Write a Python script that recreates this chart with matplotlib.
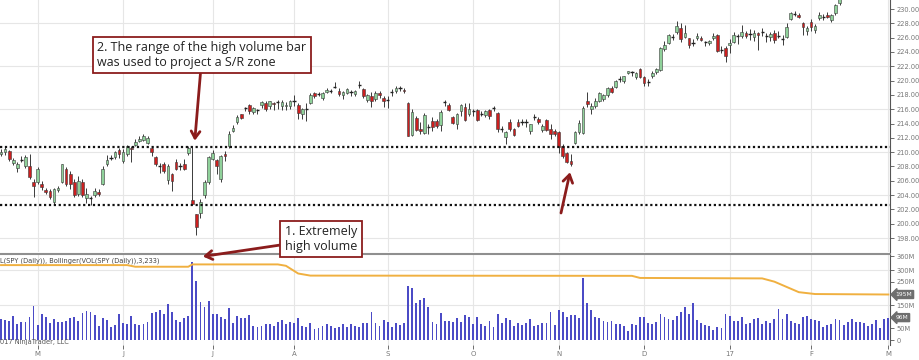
import matplotlib
matplotlib.use("Agg")
import matplotlib.pyplot as plt
import matplotlib.transforms as mtransforms
import pandas as pd

# Data harian SPY, 19 Apr 2016 - 1 Mar 2017
libur = ["2016-05-30", "2016-07-04", "2016-09-05", "2016-11-24",
         "2016-12-26", "2017-01-02", "2017-01-16", "2017-02-20"]
tanggal = pd.bdate_range("2016-04-19", "2017-03-01")
tanggal = tanggal[~tanggal.isin(pd.to_datetime(libur))]

label_bulan = ["M", "J", "J", "A", "S", "O", "N", "D", "17", "F", "M"]

harga_buka = [
    209.7, 210.0, 210.1, 208.5, 207.8, 208.9, 208.1, 208.1, 205.9, 205.8,
    205.6, 204.7, 204.6, 203.1, 204.7, 205.9, 207.7, 206.9, 205.9, 204.1,
    205.9, 203.6, 203.6, 204.0, 204.5, 205.6, 208.3, 209.2, 209.3, 210.3,
    208.8, 209.8, 210.6, 211.0, 211.6, 211.7, 211.3, 210.6, 209.3, 208.0,
    208.3, 206.1, 206.9, 208.6, 208.0, 208.4, 209.9, 203.3, 201.3, 201.5,
    204.0, 205.9, 209.1, 208.9, 206.3, 209.8, 210.9, 213.0, 214.2, 215.3,
    216.1, 216.6, 215.6, 215.9, 216.6, 216.9, 216.4, 216.9, 216.9, 216.4,
    216.4, 216.5, 217.2, 216.6, 215.4, 216.0, 216.9, 218.2, 218.1, 217.5,
    218.4, 218.5, 219.1, 218.6, 218.0, 218.3, 218.5, 218.1, 219.3, 218.8,
    217.3, 217.9, 217.4, 218.2, 217.6, 217.3, 218.3, 218.6, 219.0, 218.7,
    216.9, 212.4, 214.8, 213.2, 212.7, 213.5, 214.3, 214.4, 213.8, 216.9,
    216.6, 214.9, 213.9, 215.7, 216.3, 215.4, 215.8, 215.9, 215.3, 215.2,
    215.9, 216.1, 215.5, 213.3, 212.1, 214.2, 213.2, 214.2, 214.2, 214.1,
    212.9, 214.8, 214.7, 213.1, 214.5, 213.2, 213.0, 212.8, 210.8, 209.9,
    208.7, 211.3, 212.8, 212.7, 217.2, 216.0, 216.5, 217.1, 217.4, 218.0,
    219.0, 219.1, 220.3, 219.9, 221.0, 221.2, 220.5, 221.6, 220.5, 219.7,
    220.7, 221.2, 221.5, 224.4, 225.3, 226.2, 226.8, 227.3, 226.1, 225.9,
    225.2, 225.9, 226.0, 225.4, 225.2, 225.9, 226.3, 224.3, 224.5, 225.0,
    225.4, 226.3, 226.2, 226.6, 226.5, 226.1, 226.6, 226.7, 226.3, 226.1,
    226.6, 226.3, 225.8, 226.1, 228.6, 229.3, 229.2, 228.0, 226.9, 228.2,
    227.0, 228.8, 228.9, 229.2, 228.5, 229.4, 230.8, 232.0, 232.9, 234.8,
    236.4, 235.0, 237.1, 237.6, 238.4, 236.5, 237.7, 238.4, 239.6]

harga_tinggi = [
    210.4, 210.9, 210.3, 209.2, 208.6, 209.4, 209.6, 209.8, 206.3, 207.9,
    206.0, 205.0, 204.9, 205.0, 205.3, 208.4, 207.9, 207.3, 206.2, 206.6,
    206.2, 205.0, 203.9, 205.0, 204.8, 208.0, 209.6, 209.6, 210.2, 210.6,
    210.4, 211.0, 210.9, 211.8, 212.2, 212.5, 212.2, 210.8, 209.5, 208.5,
    208.6, 208.3, 207.1, 209.1, 208.5, 209.0, 210.8, 210.8, 201.4, 203.4,
    206.1, 209.5, 210.3, 209.0, 209.6, 210.1, 212.9, 213.8, 215.2, 215.4,
    216.3, 216.7, 216.3, 216.1, 217.1, 217.1, 217.2, 217.0, 217.3, 217.3,
    217.0, 217.3, 218.0, 216.8, 216.2, 216.8, 218.2, 218.4, 218.4, 218.4,
    218.9, 218.8, 219.8, 218.9, 218.6, 219.0, 218.7, 218.7, 219.9, 219.0,
    218.1, 218.4, 218.6, 218.5, 217.9, 217.8, 218.8, 219.3, 219.2, 218.9,
    217.0, 216.0, 215.0, 214.2, 215.5, 213.9, 214.9, 214.6, 215.9, 217.3,
    216.8, 215.1, 215.5, 216.7, 216.8, 216.8, 216.0, 216.1, 215.8, 215.9,
    216.0, 216.5, 215.6, 213.7, 213.0, 214.6, 213.4, 214.6, 214.6, 214.6,
    214.0, 215.3, 214.9, 214.0, 214.6, 214.0, 213.2, 212.9, 211.1, 210.0,
    209.8, 213.0, 214.5, 216.4, 218.4, 216.8, 217.6, 218.4, 218.1, 219.1,
    219.3, 220.1, 220.6, 220.7, 221.4, 221.4, 221.2, 221.8, 220.6, 220.2,
    221.4, 221.7, 224.7, 225.5, 226.5, 226.5, 228.3, 228.1, 227.8, 226.0,
    225.8, 226.6, 226.2, 225.6, 225.7, 226.7, 226.5, 224.8, 224.9, 225.8,
    226.8, 226.5, 227.8, 226.9, 227.2, 227.1, 226.8, 227.4, 226.7, 226.8,
    227.0, 226.9, 226.4, 228.0, 229.6, 229.7, 229.4, 228.2, 227.6, 228.6,
    227.9, 229.6, 229.3, 229.6, 229.3, 230.7, 231.6, 233.1, 234.9, 236.3,
    236.5, 236.6, 237.9, 237.9, 238.5, 238.2, 238.6, 238.5, 240.3]

harga_rendah = [
    209.4, 209.6, 208.8, 208.2, 207.2, 208.6, 207.8, 206.3, 203.7, 205.5,
    204.7, 204.1, 203.5, 202.8, 204.4, 205.7, 205.3, 204.9, 203.8, 203.9,
    203.7, 202.9, 202.6, 203.7, 203.9, 205.4, 208.0, 208.9, 209.1, 209.2,
    208.5, 209.5, 208.6, 210.8, 211.4, 211.5, 211.1, 209.4, 208.1, 207.1,
    207.1, 205.6, 204.6, 207.5, 207.5, 207.5, 209.6, 202.6, 198.4, 200.8,
    203.6, 205.6, 208.9, 207.0, 205.9, 208.7, 210.6, 212.8, 214.0, 214.6,
    215.8, 215.4, 215.3, 215.4, 216.2, 215.8, 216.0, 215.9, 216.0, 215.9,
    215.9, 216.0, 216.4, 214.7, 214.6, 214.4, 216.7, 217.6, 217.8, 217.3,
    218.2, 218.2, 218.9, 217.9, 217.4, 218.1, 217.9, 217.8, 218.9, 217.6,
    217.0, 216.3, 217.2, 217.5, 216.3, 216.2, 217.9, 218.3, 218.6, 218.2,
    212.3, 212.2, 212.9, 212.5, 212.6, 212.5, 213.0, 213.4, 212.9, 216.4,
    215.8, 213.9, 213.2, 215.0, 214.3, 215.1, 215.0, 214.3, 215.0, 214.9,
    214.6, 215.8, 212.8, 212.8, 211.2, 213.0, 212.2, 213.5, 213.8, 213.5,
    212.6, 214.5, 213.9, 212.8, 212.9, 211.9, 212.3, 209.9, 209.2, 208.5,
    208.0, 211.2, 212.5, 212.5, 216.3, 215.4, 216.2, 217.0, 217.2, 217.7,
    218.2, 219.0, 219.8, 219.6, 220.9, 220.7, 220.2, 220.3, 219.3, 219.3,
    220.4, 220.9, 221.3, 224.1, 225.1, 225.7, 226.5, 225.4, 225.9, 224.6,
    224.9, 225.7, 225.5, 224.8, 225.0, 225.7, 224.0, 223.8, 222.6, 223.9,
    225.3, 225.1, 225.9, 226.0, 225.7, 225.6, 224.3, 226.2, 225.4, 225.6,
    225.3, 225.9, 225.0, 225.9, 228.4, 229.0, 228.7, 226.4, 226.4, 226.9,
    226.6, 228.5, 228.5, 228.7, 228.2, 229.2, 230.6, 231.9, 232.6, 234.7,
    234.7, 234.9, 236.9, 237.2, 236.9, 236.3, 237.6, 237.1, 239.3]

harga_tutup = [
    210.0, 210.4, 209.0, 208.9, 208.3, 209.0, 209.3, 206.5, 205.3, 207.6,
    205.1, 204.5, 203.8, 204.8, 205.0, 208.3, 205.6, 205.6, 204.0, 206.0,
    204.0, 204.2, 203.5, 204.6, 204.1, 207.7, 208.9, 209.3, 210.0, 209.8,
    210.0, 210.8, 210.4, 211.4, 211.8, 212.2, 212.0, 210.0, 208.3, 208.0,
    207.4, 208.1, 206.0, 207.7, 208.1, 207.7, 210.6, 202.8, 199.6, 203.1,
    205.9, 209.3, 209.9, 208.0, 209.4, 209.4, 212.6, 213.4, 214.9, 214.8,
    216.2, 215.7, 216.2, 215.9, 217.0, 216.0, 217.1, 216.7, 217.0, 217.0,
    216.6, 217.1, 217.1, 215.5, 216.0, 216.1, 218.0, 217.9, 218.2, 218.3,
    218.7, 218.5, 219.2, 218.1, 218.4, 218.8, 218.4, 218.6, 219.4, 217.8,
    218.0, 217.2, 218.3, 218.0, 217.2, 217.4, 218.4, 219.0, 218.9, 218.5,
    212.3, 215.6, 213.1, 213.0, 215.2, 213.4, 213.5, 213.7, 215.6, 217.0,
    215.9, 214.1, 215.4, 216.6, 214.5, 216.0, 215.7, 214.5, 215.4, 215.7,
    215.0, 216.2, 213.2, 213.3, 212.8, 213.2, 212.4, 213.7, 214.3, 214.2,
    214.0, 214.9, 214.2, 213.7, 213.1, 212.6, 212.5, 210.7, 209.5, 208.6,
    208.3, 212.8, 214.1, 216.2, 216.7, 216.5, 217.2, 218.3, 218.0, 219.0,
    218.4, 220.0, 220.2, 220.6, 221.3, 221.1, 221.0, 220.5, 219.7, 219.8,
    221.1, 221.6, 224.5, 225.0, 226.4, 226.1, 227.6, 225.8, 226.7, 225.0,
    225.3, 226.2, 225.7, 225.3, 225.6, 226.2, 224.1, 224.2, 223.4, 225.2,
    226.4, 226.2, 226.8, 226.2, 226.5, 226.7, 226.4, 226.8, 226.2, 226.5,
    225.7, 226.2, 225.8, 227.5, 229.4, 229.3, 228.9, 227.5, 227.4, 227.5,
    227.6, 229.2, 228.8, 228.9, 229.2, 230.5, 231.5, 233.0, 234.9, 236.3,
    236.0, 236.6, 237.9, 237.6, 237.8, 238.2, 238.4, 237.8, 240.0]

# Volume harian dalam juta lembar
volume = [
    90, 86, 81, 103, 69, 77, 79, 100, 146, 63,
    110, 100, 71, 90, 77, 79, 81, 93, 100, 81,
    117, 124, 121, 106, 60, 96, 86, 54, 66, 111,
    74, 69, 104, 67, 66, 69, 77, 117, 120, 127,
    110, 153, 121, 86, 76, 96, 104, 336, 254, 161,
    140, 169, 110, 111, 97, 89, 136, 74, 104, 93,
    93, 109, 60, 57, 60, 70, 67, 59, 76, 86,
    69, 79, 71, 96, 60, 55, 72, 46, 52, 60,
    68, 62, 52, 55, 70, 56, 70, 60, 57, 74,
    71, 121, 72, 60, 86, 79, 57, 74, 66, 74,
    232, 222, 160, 170, 180, 140, 78, 70, 115, 80,
    80, 78, 93, 78, 108, 100, 68, 100, 70, 62,
    80, 54, 112, 75, 96, 84, 60, 72, 64, 71,
    88, 60, 63, 72, 72, 120, 66, 130, 121, 100,
    107, 107, 95, 265, 160, 130, 100, 95, 80, 78,
    80, 70, 67, 58, 40, 70, 65, 100, 98, 72,
    68, 77, 110, 100, 90, 85, 102, 120, 143, 110,
    157, 85, 75, 65, 60, 45, 55, 50, 110, 105,
    82, 80, 100, 68, 75, 88, 96, 70, 80, 75,
    90, 131, 92, 110, 80, 75, 70, 100, 105, 92,
    85, 80, 55, 65, 70, 88, 85, 66, 78, 90,
    76, 78, 74, 62, 70, 84, 53, 88, 96]

# Titik-titik garis Bollinger atas untuk volume (indeks bar, juta)
bollinger_x = [0, 31, 33, 46, 47, 68, 70, 73, 76, 155, 157, 187, 190, 196, 200, 218]
bollinger_y = [321, 321, 314, 314, 324, 324, 318, 285, 276, 275, 266, 264, 250, 205, 197, 195]

# Batas zona S/R dari bar volume tinggi
zona_atas = 210.7
zona_bawah = 202.6

MERAH = "#8b1c1c"


def posisi_bulan():
    # Indeks bar pertama tiap bulan mulai Mei
    idx = []
    for i in range(1, len(tanggal)):
        if tanggal[i].month != tanggal[i - 1].month:
            idx.append(i)
    return idx


def gambar_candle(ax):
    for i in range(len(harga_tutup)):
        o, h, l, c = harga_buka[i], harga_tinggi[i], harga_rendah[i], harga_tutup[i]
        ax.vlines(i, l, h, color="#3a3a3a", lw=0.7, zorder=3)
        if abs(c - o) < 0.12:
            ax.hlines((o + c) / 2, i - 0.4, i + 0.4, color="#222222", lw=1.0, zorder=4)
        else:
            warna = "#8fd19a" if c > o else "#cc1f1f"
            ax.bar(i, abs(c - o), bottom=min(o, c), width=0.66, color=warna,
                   edgecolor="#3a3a3a", linewidth=0.4, zorder=4)


def main():
    fig = plt.figure(figsize=(9.2, 3.6), dpi=100)
    ax = fig.add_axes([0, 0.30, 890 / 920, 0.70])
    ax2 = fig.add_axes([0, 15 / 360, 890 / 920, 91 / 360])

    bulan = posisi_bulan()
    n = len(harga_tutup)

    # Panel harga
    gambar_candle(ax)
    ax.set_xlim(-0.25, 218.4)
    ax.set_ylim(196.05, 231.26)
    for y in range(198, 231, 6):
        ax.axhline(y, color="#e6e6e6", lw=0.8, zorder=0)
    for b in bulan:
        ax.axvline(b, color="#e6e6e6", lw=0.8, zorder=0)
        ax2.axvline(b, color="#e6e6e6", lw=0.8, zorder=0)
    ax.axhline(zona_atas, color="#111111", lw=1.6, ls=(0, (1, 1.2)), zorder=5)
    ax.axhline(zona_bawah, color="#111111", lw=1.6, ls=(0, (1, 1.2)), zorder=5)

    ax.yaxis.tick_right()
    ax.set_yticks([198 + 2 * k for k in range(17)])
    ax.set_yticklabels(["%.2f" % (198 + 2 * k) for k in range(17)])
    ax.tick_params(axis="y", direction="out", length=3, width=0.6, colors="#555555",
                   labelsize=4.8, labelcolor="#777777", pad=1.5)
    ax.set_xticks([])
    for s in ["left", "top", "bottom"]:
        ax.spines[s].set_visible(False)
    ax.spines["right"].set_color("#555555")

    # Panel volume
    ax2.bar(range(n), volume, width=0.45, color="#4b4bc6", zorder=3)
    ax2.plot(bollinger_x, bollinger_y, color="#f0b040", lw=1.4, zorder=4)
    ax2.set_xlim(-0.25, 218.4)
    ax2.set_ylim(-21.4, 368.6)
    for y in [150, 300]:
        ax2.axhline(y, color="#e6e6e6", lw=0.8, zorder=0)
    ax2.yaxis.tick_right()
    ax2.set_yticks([0, 50, 150, 250, 300, 360])
    ax2.set_yticklabels(["0", "50M", "150M", "250M", "300M", "360M"])
    ax2.tick_params(axis="y", direction="out", length=3, width=0.6, colors="#555555",
                    labelsize=4.8, labelcolor="#777777", pad=1.5)
    ax2.set_xticks(bulan)
    ax2.set_xticklabels(label_bulan)
    ax2.tick_params(axis="x", direction="out", length=3, width=0.6, colors="#555555",
                    labelsize=5, labelcolor="#777777", pad=1.5)
    ax2.spines["left"].set_visible(False)
    ax2.spines["top"].set_color("#8f8f8f")
    ax2.spines["top"].set_linewidth(1.5)
    ax2.spines["right"].set_color("#555555")
    ax2.spines["bottom"].set_visible(False)

    # Label nilai terakhir di sumbu kanan
    trans = mtransforms.blended_transform_factory(ax2.transAxes, ax2.transData)
    for nilai, teks in [(bollinger_y[-1], "195M"), (volume[-1], "96M")]:
        ax2.text(1.006, nilai, teks, transform=trans, fontsize=4.3, color="white",
                 va="center", ha="left", clip_on=False,
                 bbox=dict(boxstyle="larrow,pad=0.25", fc="#6e6e6e", ec="#6e6e6e"))

    ax2.text(0.0, 0.93, "L(SPY (Daily)), Bollinger(VOL(SPY (Daily)),3,233)",
             transform=ax2.transAxes, fontsize=4.8, color="#444444", va="center")
    ax2.text(0.0, 0.03, "017 NinjaTrader, LLC", transform=ax2.transAxes,
             fontsize=4.8, color="#555555", va="center")

    # Anotasi
    kotak = dict(boxstyle="square,pad=0.35", fc="white", ec=MERAH, lw=1.3)
    panah = dict(arrowstyle="->,head_length=0.55,head_width=0.35", color=MERAH, lw=2,
                 shrinkA=0, shrinkB=0)
    ax.annotate("2. The range of the high volume bar\nwas used to project a S/R zone",
                xy=(47.6, 211.6), xycoords="data", xytext=(202, 305),
                textcoords="figure pixels", ha="center", va="center", ma="left",
                fontsize=9, family="Open Sans", color="#222222",
                bbox=kotak, arrowprops=panah, zorder=10, annotation_clip=False)
    ax2.annotate("1. Extremely\nhigh volume", xy=(49.6, 358), xycoords="data",
                 xytext=(321, 121), textcoords="figure pixels", ha="center",
                 va="center", ma="left", fontsize=9, family="Open Sans",
                 color="#222222", bbox=kotak, arrowprops=panah, zorder=10,
                 annotation_clip=False)
    ax.annotate("", xy=(139.8, 207.2), xycoords="data", xytext=(561, 147),
                textcoords="figure pixels", arrowprops=panah, zorder=10)

    fig.savefig("out.png", dpi=100)


if __name__ == "__main__":
    main()
